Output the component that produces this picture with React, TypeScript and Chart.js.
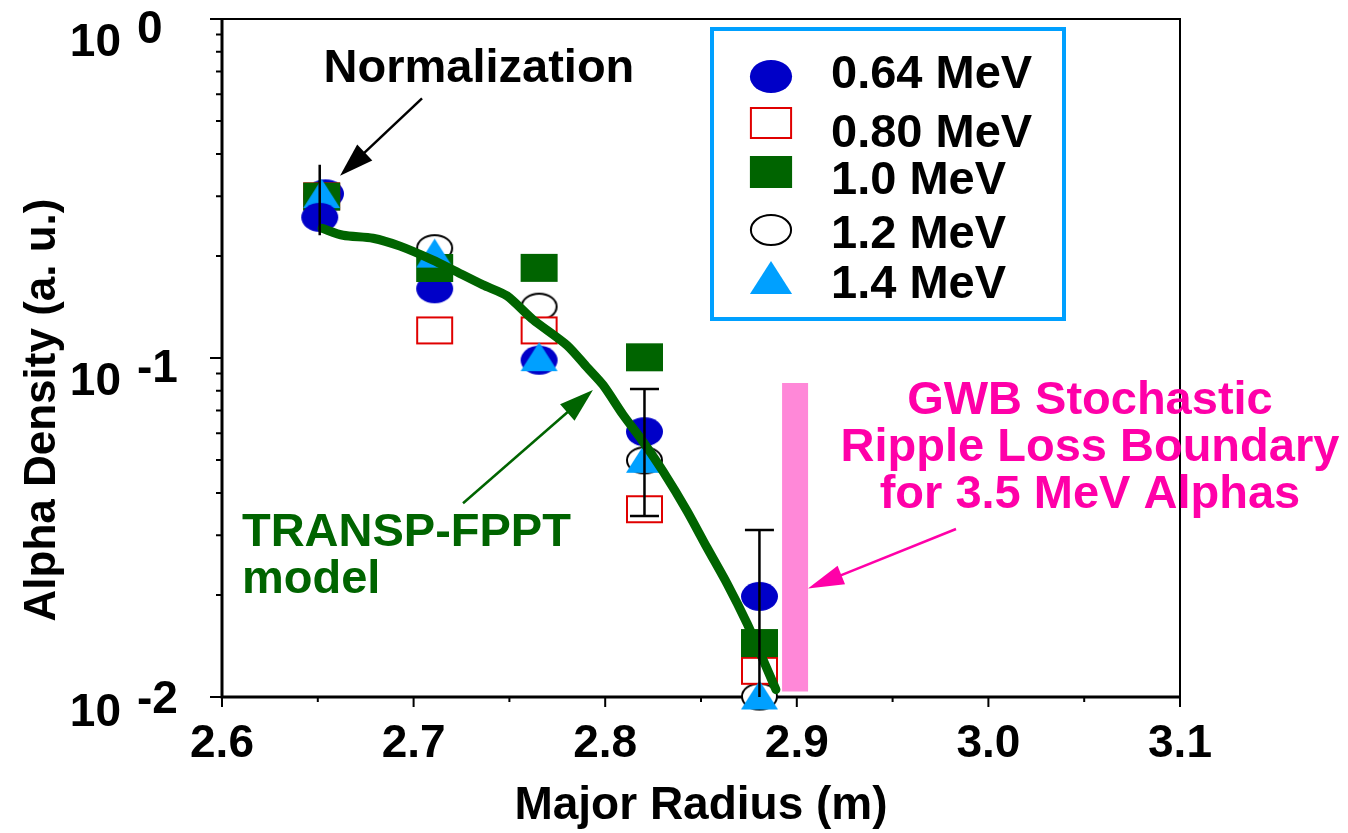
import React, { useEffect, useRef } from 'react';
import { Chart, registerables } from 'chart.js';

Chart.register(...registerables);

// ---------- data ----------
const xTickValues = [2.6, 2.7, 2.8, 2.9, 3.0, 3.1];
const xTickLabels = ['2.6', '2.7', '2.8', '2.9', '3.0', '3.1'];
const xMinorTickValues = [2.65, 2.75, 2.85, 2.95, 3.05];
const yDecadeValues = [1, 0.1, 0.01];
const yDecadeExponents = ['0', '-1', '-2'];

const seriesLabels = ['0.64 MeV', '0.80 MeV', '1.0 MeV', '1.2 MeV', '1.4 MeV'];

const radius = [2.652, 2.711, 2.7655, 2.8205, 2.8805];
const radius064 = [2.654, 2.711, 2.7655, 2.8205, 2.8805];
const density064 = [0.305, 0.160, 0.0985, 0.0606, 0.0198];
const density080 = [0.300, 0.1206, 0.1206, 0.0358, 0.01195];
const density100 = [0.2993, 0.1843, 0.1845, 0.1005, 0.01443];
const density120 = [0.300, 0.2109, 0.1417, 0.0499, 0.01003];
const density140 = [0.3055, 0.2039, 0.1009, 0.0506, 0.01014];

// second 0.64 MeV measurement at the normalization radius
const radius064b = [2.651];
const density064b = [0.260];

// error bars
const errRadius = [2.651, 2.8205, 2.8805];
const errLow = [0.2302, 0.0342, 0.0100];
const errHigh = [0.3714, 0.081, 0.0311];
const errCapLow = [false, true, false];
const errCapHigh = [false, true, true];

// TRANSP-FPPT model curve
const modelRadius = [2.6522, 2.6632, 2.6788, 2.6929, 2.7101, 2.7206, 2.7362, 2.7487, 2.7623, 2.7801, 2.7905, 2.7989, 2.8093, 2.8197, 2.8302, 2.8427, 2.8531, 2.8636, 2.874, 2.8824, 2.8891];
const modelDensity = [0.2413, 0.2302, 0.2256, 0.2138, 0.1945, 0.1818, 0.1643, 0.1526, 0.1298, 0.109, 0.0939, 0.0832, 0.068, 0.0567, 0.0463, 0.0354, 0.0276, 0.0216, 0.0165, 0.01288, 0.01052];

// GWB stochastic ripple loss boundary
const boundaryRadius = [2.8991, 2.8991];
const boundaryDensity = [0.01038, 0.0844];

// annotations (data coordinates)
const normArrow = { from: [2.7044, 0.5833], to: [2.6616, 0.3449] };
const normText = { at: [2.7341, 0.654], lines: ['Normalization'] };
const modelArrow = { from: [2.7258, 0.0373], to: [2.7936, 0.0804] };
const modelText = { at: [2.6104, 0.02794], lines: ['TRANSP-FPPT', 'model'] };
const gwbArrow = { from: [2.9831, 0.0313], to: [2.9058, 0.0209] };
const gwbText = { at: [3.053, 0.0684], lines: ['GWB Stochastic', 'Ripple Loss Boundary', 'for 3.5 MeV Alphas'] };

// ---------- styling ----------
const FONT = '"Liberation Sans", Arial, Helvetica, sans-serif';
const bold = (px: number) => `bold ${px}px ${FONT}`;
const BLUE = '#0000c8';
const RED = '#e00000';
const GREEN = '#006400';
const CYAN = '#00a0ff';
const PINK_TXT = '#ff00a8';
const PINK_BAR = '#ff88d8';

let legendMarkerCache: HTMLCanvasElement[] = [];

function makeMarker(kind: string, w: number, h: number, fill: string | null, stroke: string | null, lw: number) {
  const pad = 3;
  const c = document.createElement('canvas');
  c.width = Math.round(w + pad * 2);
  c.height = Math.round(h + pad * 2);
  const g = c.getContext('2d')!;
  g.translate(c.width / 2, c.height / 2);
  const iw = stroke ? w - lw : w;
  const ih = stroke ? h - lw : h;
  g.beginPath();
  if (kind === 'ellipse') g.ellipse(0, 0, iw / 2, ih / 2, 0, 0, Math.PI * 2);
  else if (kind === 'rect') g.rect(-iw / 2, -ih / 2, iw, ih);
  else {
    g.moveTo(0, -ih / 2);
    g.lineTo(iw / 2, ih / 2);
    g.lineTo(-iw / 2, ih / 2);
    g.closePath();
  }
  if (fill) {
    g.fillStyle = fill;
    g.fill();
  }
  if (stroke) {
    g.lineWidth = lw;
    g.strokeStyle = stroke;
    g.stroke();
  }
  return c;
}

function makeMarkers(scale: number) {
  const w = 37 * scale;
  const h = 29 * scale;
  return [
    makeMarker('ellipse', w, h, BLUE, null, 0),
    makeMarker('rect', w, h - 1, '#ffffff', RED, 2),
    makeMarker('rect', w, h - 1, GREEN, null, 0),
    makeMarker('ellipse', w, h - 1, '#ffffff', '#000000', 2),
    makeMarker('tri', w, h, CYAN, null, 0),
  ];
}

const pts = (xs: number[], ys: number[]) => xs.map((x, i) => ({ x, y: ys[i] }));

function drawArrow(ctx: CanvasRenderingContext2D, x1: number, y1: number, x2: number, y2: number, color: string, lw: number, len: number, half: number) {
  const ang = Math.atan2(y2 - y1, x2 - x1);
  const bx = x2 - Math.cos(ang) * len;
  const by = y2 - Math.sin(ang) * len;
  ctx.save();
  ctx.strokeStyle = color;
  ctx.fillStyle = color;
  ctx.lineWidth = lw;
  ctx.beginPath();
  ctx.moveTo(x1, y1);
  ctx.lineTo(bx + Math.cos(ang) * 4, by + Math.sin(ang) * 4);
  ctx.stroke();
  ctx.beginPath();
  ctx.moveTo(x2, y2);
  ctx.lineTo(bx + Math.sin(ang) * half, by - Math.cos(ang) * half);
  ctx.lineTo(bx - Math.sin(ang) * half, by + Math.cos(ang) * half);
  ctx.closePath();
  ctx.fill();
  ctx.restore();
}

const decoPlugin = {
  id: 'deco',
  beforeDatasetsDraw(chart: any) {
    const { ctx, chartArea: a, scales } = chart;
    const x = scales.x;
    const y = scales.y;
    ctx.save();
    ctx.strokeStyle = '#000';
    ctx.lineCap = 'butt';
    ctx.lineWidth = 2;
    ctx.beginPath();
    ctx.moveTo(a.left, a.top);
    ctx.lineTo(a.right, a.top);
    ctx.lineTo(a.right, a.bottom);
    ctx.stroke();
    ctx.lineWidth = 3;
    ctx.beginPath();
    ctx.moveTo(a.left, a.top - 1);
    ctx.lineTo(a.left, a.bottom);
    ctx.lineTo(a.right + 1, a.bottom);
    ctx.stroke();
    ctx.lineWidth = 2;
    ctx.beginPath();
    xTickValues.forEach((v) => {
      const px = x.getPixelForValue(v);
      ctx.moveTo(px, a.bottom);
      ctx.lineTo(px, a.bottom + 10);
    });
    xMinorTickValues.forEach((v) => {
      const px = x.getPixelForValue(v);
      ctx.moveTo(px, a.bottom);
      ctx.lineTo(px, a.bottom + 5);
    });
    yDecadeValues.forEach((v) => {
      const py = y.getPixelForValue(v);
      ctx.moveTo(a.left - 12, py);
      ctx.lineTo(a.left, py);
    });
    for (const d of [0.01, 0.1]) {
      for (let k = 2; k <= 9; k++) {
        const py = y.getPixelForValue(d * k);
        ctx.moveTo(a.left - 6, py);
        ctx.lineTo(a.left, py);
      }
    }
    ctx.stroke();

    ctx.fillStyle = '#000';
    ctx.font = bold(46);
    ctx.textAlign = 'center';
    ctx.textBaseline = 'alphabetic';
    xTickValues.forEach((v, i) => {
      ctx.fillText(xTickLabels[i], x.getPixelForValue(v), a.bottom + 60);
    });
    yDecadeValues.forEach((v, i) => {
      const py = y.getPixelForValue(v);
      const base = Math.min(py + 37, 726);
      ctx.textAlign = 'right';
      ctx.fillText('10', 121, base);
      ctx.textAlign = 'left';
      ctx.fillText(yDecadeExponents[i], 137, base - 13);
    });
    ctx.textAlign = 'center';
    ctx.fillText('Major Radius (m)', (a.left + a.right) / 2, 819);
    ctx.save();
    ctx.font = bold(44);
    ctx.translate(55, 410);
    ctx.rotate(-Math.PI / 2);
    ctx.fillText('Alpha Density (a. u.)', 0, 0);
    ctx.restore();
    ctx.restore();
  },
  afterDatasetsDraw(chart: any) {
    const { ctx, scales } = chart;
    const x = scales.x;
    const y = scales.y;
    ctx.save();
    ctx.strokeStyle = '#000';
    ctx.lineWidth = 2.5;
    ctx.beginPath();
    errRadius.forEach((r, i) => {
      const px = x.getPixelForValue(r);
      const lo = y.getPixelForValue(errLow[i]);
      const hi = y.getPixelForValue(errHigh[i]);
      ctx.moveTo(px, lo);
      ctx.lineTo(px, hi);
      if (errCapHigh[i]) {
        ctx.moveTo(px - 14.5, hi);
        ctx.lineTo(px + 14.5, hi);
      }
      if (errCapLow[i]) {
        ctx.moveTo(px - 14.5, lo);
        ctx.lineTo(px + 14.5, lo);
      }
    });
    ctx.stroke();
    ctx.restore();
  },
  afterDraw(chart: any) {
    const { ctx, scales } = chart;
    const x = scales.x;
    const y = scales.y;
    const P = (p: number[]) => [x.getPixelForValue(p[0]), y.getPixelForValue(p[1])];

    let f = P(normArrow.from), t = P(normArrow.to);
    drawArrow(ctx, f[0], f[1], t[0], t[1], '#000', 2.5, 34, 11);
    f = P(modelArrow.from); t = P(modelArrow.to);
    drawArrow(ctx, f[0], f[1], t[0], t[1], GREEN, 2.5, 34, 11);
    f = P(gwbArrow.from); t = P(gwbArrow.to);
    drawArrow(ctx, f[0], f[1], t[0], t[1], PINK_TXT, 2.5, 36, 10);

    ctx.save();
    ctx.font = bold(47);
    ctx.textBaseline = 'alphabetic';
    let p = P(normText.at);
    ctx.fillStyle = '#000';
    ctx.textAlign = 'center';
    ctx.fillText(normText.lines[0], p[0], p[1]);
    p = P(modelText.at);
    ctx.fillStyle = GREEN;
    ctx.textAlign = 'left';
    modelText.lines.forEach((l, i) => ctx.fillText(l, p[0], p[1] + i * 47));
    p = P(gwbText.at);
    ctx.fillStyle = PINK_TXT;
    ctx.textAlign = 'center';
    gwbText.lines.forEach((l, i) => ctx.fillText(l, p[0], p[1] + i * 47));

    ctx.fillStyle = '#ffffff';
    ctx.fillRect(712, 29, 352, 290);
    ctx.strokeStyle = CYAN;
    ctx.lineWidth = 4;
    ctx.strokeRect(712, 29, 352, 290);
    const rowsY = [76, 123, 172, 230, 277];
    const textBase = [88, 147, 194, 248, 298];
    ctx.fillStyle = '#000';
    ctx.textAlign = 'left';
    seriesLabels.forEach((lab, i) => {
      const m = legendMarkerCache[i];
      if (m) ctx.drawImage(m, Math.round(771 - m.width / 2), Math.round(rowsY[i] - m.height / 2));
      ctx.fillText(lab, 831, textBase[i]);
    });
    ctx.restore();
  },
};

export default function App() {
  const ref = useRef<HTMLCanvasElement | null>(null);
  useEffect(() => {
    document.body.style.margin = '0';
    const canvas = ref.current!;
    const mk = makeMarkers(1);
    legendMarkerCache = makeMarkers(1.14);
    const scatter = (label: string, xs: number[], ys: number[], style: HTMLCanvasElement, order: number) => ({
      label,
      data: pts(xs, ys),
      showLine: false,
      pointStyle: style,
      pointRadius: 18,
      pointHoverRadius: 18,
      order,
      clip: false as any,
    });
    const chart = new Chart(canvas, {
      type: 'line',
      data: {
        datasets: [
          {
            label: 'GWB boundary',
            data: pts(boundaryRadius, boundaryDensity),
            borderColor: PINK_BAR,
            borderWidth: 26,
            borderCapStyle: 'butt',
            pointRadius: 0,
            order: 10,
          } as any,
          scatter(seriesLabels[0], radius064, density064, mk[0], 8),
          scatter(seriesLabels[3], radius, density120, mk[3], 7),
          scatter(seriesLabels[1], radius, density080, mk[1], 6),
          scatter(seriesLabels[2], radius, density100, mk[2], 5),
          scatter(seriesLabels[4], radius, density140, mk[4], 4),
          scatter(seriesLabels[0] + ' (repeat)', radius064b, density064b, mk[0], 3),
          {
            label: 'TRANSP-FPPT model',
            data: pts(modelRadius, modelDensity),
            borderColor: GREEN,
            borderWidth: 9,
            borderCapStyle: 'round',
            borderJoinStyle: 'round',
            tension: 0.25,
            pointRadius: 0,
            order: 2,
          } as any,
        ],
      },
      options: {
        animation: false,
        responsive: false,
        devicePixelRatio: 1,
        events: [],
        layout: { padding: { top: 14, right: 168, left: 0, bottom: 0 } },
        plugins: { legend: { display: false }, tooltip: { enabled: false } },
        scales: {
          x: {
            type: 'linear',
            min: 2.6,
            max: 3.1,
            ticks: { display: false },
            grid: { display: false },
            border: { display: false },
            afterFit(s: any) {
              s.height = 136;
            },
          },
          y: {
            type: 'logarithmic',
            min: 0.01,
            max: 1,
            ticks: { display: false },
            grid: { display: false },
            border: { display: false },
            afterFit(s: any) {
              s.width = 222;
            },
          },
        },
      } as any,
      plugins: [decoPlugin as any],
    });
    return () => chart.destroy();
  }, []);
  return (
    <div style={{ width: 1348, height: 833, background: '#fff' }}>
      <canvas ref={ref} width={1348} height={833} style={{ display: 'block' }} />
    </div>
  );
}
